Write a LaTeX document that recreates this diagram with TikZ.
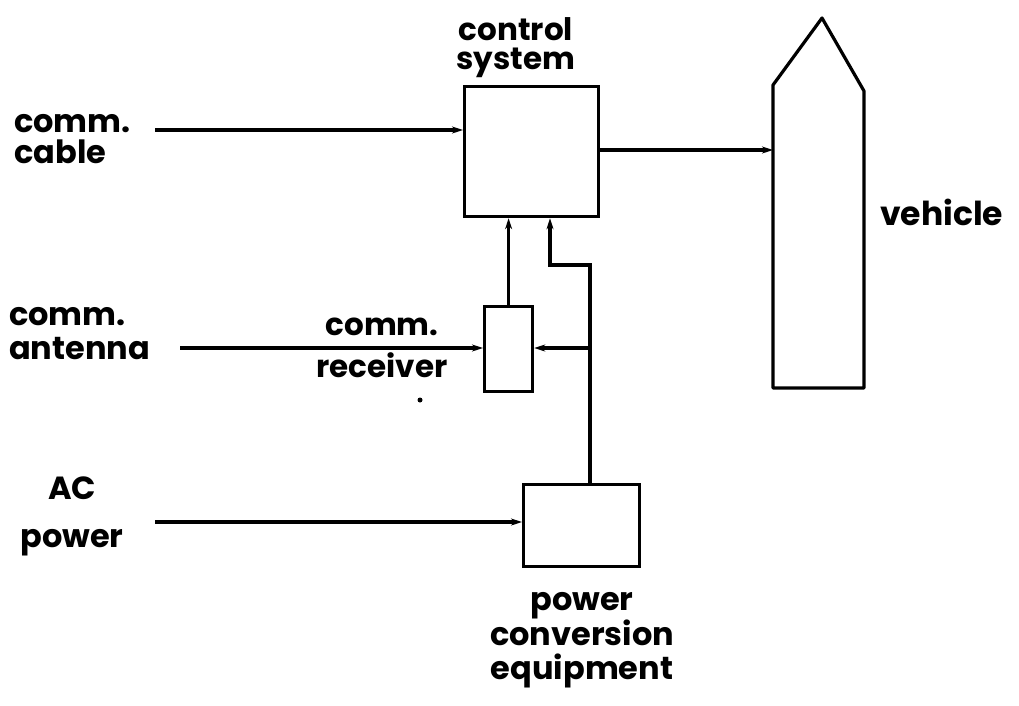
\documentclass[tikz,border=0pt]{standalone}
\usepackage{fontspec}
\setmainfont{Poppins}
\usetikzlibrary{arrows.meta}
\begin{document}
\begin{tikzpicture}[x=1pt,y=-1pt,
  blk/.style={draw,line width=3.2pt,inner sep=0pt,anchor=north west},
  wire/.style={line width=3.4pt},
  arr/.style={wire,-{Stealth[length=11pt,width=7pt]}},
  lbl/.style={font=\fontsize{32}{34}\selectfont\bfseries,inner sep=0pt,align=center}]
\useasboundingbox (0,0) rectangle (1019,705);
% boxes
\node[blk,minimum width=134pt,minimum height=130pt] (ctrl) at (463,85) {};
\node[blk,minimum width=48pt,minimum height=85pt] (recv) at (483,305) {};
\node[blk,minimum width=116pt,minimum height=82pt] (pwr) at (522,483) {};
% vehicle
\draw[line width=3.2pt,line join=round] (773,388) -- (773,85) -- (822,18) -- (864,91) -- (864,388) -- cycle;
\coordinate (veh) at (773,150);
% labels
\node[lbl,font=\fontsize{31}{29}\selectfont\bfseries] (lctrl) at (516,48) {control\\system};
\node[lbl,align=left,anchor=west,font=\fontsize{32}{31}\selectfont\bfseries] (lcable) at (14,139) {comm.\\cable};
\node[lbl,anchor=west,font=\fontsize{33}{34}\selectfont\bfseries] (lveh) at (880,212) {vehicle};
\node[lbl,align=left,anchor=west] (lant) at (9,334) {comm.\\antenna};
\node[lbl,font=\fontsize{31}{42}\selectfont\bfseries] (lrecv) at (382,348) {comm.\\receiver};
\node[lbl,font=\fontsize{32}{48}\selectfont\bfseries] (lac) at (72,516) {AC\\power};
\node[lbl] (lpce) at (582,640) {power\\conversion\\equipment};
\fill (420,400) circle (2.5pt);
% input free ends
\coordinate (cin) at (155,130);
\coordinate (ain) at (180,348);
\coordinate (acin) at (155,522);
% connectors
\draw[arr] (cin) -- (ctrl.west |- cin);
\draw[arr] (ctrl.east |- veh) -- (veh);
\draw[arr] (ain) -- (recv.west |- ain);
\draw[arr] (acin) -- (pwr.west |- acin);
\draw[arr] (recv.north) -- (recv.north |- ctrl.south);
\coordinate (up) at (590,483);
\coordinate (bend) at (590,265);
\coordinate (bend2) at (550,265);
\draw[arr] (up) -- (bend) -- (bend2) -- (bend2 |- ctrl.south);
\coordinate (br) at (590,348);
\draw[arr] (br) -- (recv.east |- br);
\end{tikzpicture}
\end{document}
